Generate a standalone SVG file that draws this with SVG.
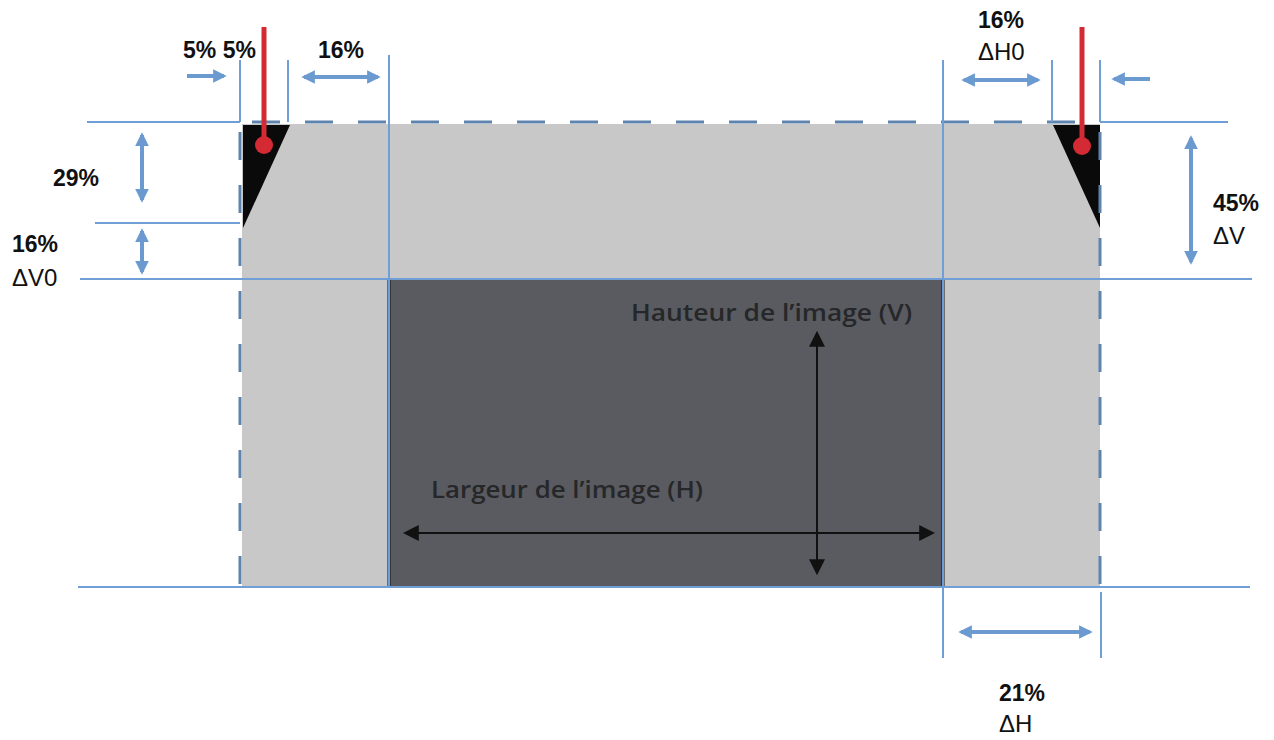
<svg xmlns="http://www.w3.org/2000/svg" width="1274" height="740" viewBox="0 0 1274 740">
<defs>
<style>
.ln{stroke:#6f9fd6;stroke-width:2;fill:none}
.dash{stroke:#5e84ad;stroke-width:3;fill:none;stroke-dasharray:28 25}
.arr{stroke:#6a9ad0;stroke-width:4;fill:none}
.red{stroke:#d42a33;stroke-width:5;fill:none}
.pct{font-family:"Liberation Sans",Arial,sans-serif;font-weight:bold;font-size:23px;fill:#111}
.dl{font-family:"Liberation Sans",Arial,sans-serif;font-size:24px;fill:#111}
.img{font-family:"Open Sans","Liberation Sans",sans-serif;font-weight:600;font-size:24px;fill:#262729}
.blk{stroke:#111;stroke-width:2;fill:none}
</style>
<marker id="ba" viewBox="0 0 10 10" refX="8" refY="5" markerWidth="3.4" markerHeight="3.4" orient="auto-start-reverse" markerUnits="strokeWidth">
<path d="M0,0 L10,5 L0,10 Z" fill="#6a9ad0"/>
</marker>
<marker id="ka" viewBox="0 0 10 10" refX="8" refY="5" markerWidth="8" markerHeight="8" orient="auto-start-reverse" markerUnits="strokeWidth">
<path d="M0,0 L10,5 L0,10 Z" fill="#111"/>
</marker>
</defs>
<rect width="1274" height="740" fill="#fff"/>
<g id="screen">
<rect x="242" y="124" width="858" height="463" fill="#c8c8c8"/>
<polygon points="243,125 290,125 243,228" fill="#0a0a0a"/>
<polygon points="1053,125 1100,125 1100,228" fill="#0a0a0a"/>
</g>
<g id="image">
<rect x="389" y="280" width="554" height="307" fill="#595b60"/>
<line x1="389" y1="280" x2="389" y2="587" stroke="#111" stroke-width="3"/>
<line x1="943" y1="280" x2="943" y2="587" stroke="#111" stroke-width="3"/>
<text class="img" x="631" y="321" textLength="281" lengthAdjust="spacingAndGlyphs">Hauteur de l’image (V)</text>
<text class="img" x="431" y="498" textLength="272" lengthAdjust="spacingAndGlyphs">Largeur de l’image (H)</text>
</g>
<g id="connectors">
<line class="ln" x1="87" y1="122" x2="240" y2="122"/>
<line class="dash" x1="250" y1="122" x2="1100" y2="122" stroke-dashoffset="-2"/>
<line class="ln" x1="1100" y1="122" x2="1228" y2="122"/>
<line class="ln" x1="95" y1="223" x2="240" y2="223"/>
<line class="ln" x1="80" y1="279" x2="1252" y2="279"/>
<line class="ln" x1="78" y1="587" x2="1250" y2="587"/>
<line class="ln" x1="240" y1="60" x2="240" y2="122"/>
<line class="dash" x1="240" y1="122" x2="240" y2="587" stroke-dashoffset="-10"/>
<line class="ln" x1="288" y1="60" x2="288" y2="122"/>
<line class="ln" x1="389" y1="55" x2="389" y2="587"/>
<line class="ln" x1="943" y1="60" x2="943" y2="658"/>
<line class="ln" x1="1052" y1="60" x2="1052" y2="122"/>
<line class="ln" x1="1100" y1="60" x2="1100" y2="122"/>
<line class="dash" x1="1100" y1="122" x2="1100" y2="587" stroke-dashoffset="-10"/>
<line class="ln" x1="1101" y1="592" x2="1101" y2="658"/>
<line class="arr" x1="187" y1="76" x2="224" y2="76" marker-end="url(#ba)"/>
<line class="arr" x1="304" y1="77" x2="378" y2="77" marker-start="url(#ba)" marker-end="url(#ba)"/>
<line class="arr" x1="142" y1="135" x2="142" y2="200" marker-start="url(#ba)" marker-end="url(#ba)"/>
<line class="arr" x1="142" y1="231" x2="142" y2="272" marker-start="url(#ba)" marker-end="url(#ba)"/>
<line class="arr" x1="964" y1="80" x2="1038" y2="80" marker-start="url(#ba)" marker-end="url(#ba)"/>
<line class="arr" x1="1150" y1="79" x2="1114" y2="79" marker-end="url(#ba)"/>
<line class="arr" x1="1191" y1="138" x2="1191" y2="262" marker-start="url(#ba)" marker-end="url(#ba)"/>
<line class="arr" x1="961" y1="632" x2="1090" y2="632" marker-start="url(#ba)" marker-end="url(#ba)"/>
<line class="blk" x1="817" y1="334" x2="817" y2="572" marker-start="url(#ka)" marker-end="url(#ka)"/>
<line class="blk" x1="406" y1="533" x2="932" y2="533" marker-start="url(#ka)" marker-end="url(#ka)"/>
</g>
<g id="probes">
<line class="red" x1="264" y1="27" x2="264" y2="145"/>
<circle cx="264" cy="145" r="9" fill="#d42a33"/>
<line class="red" x1="1082" y1="27" x2="1082" y2="145"/>
<circle cx="1082" cy="146" r="9" fill="#d42a33"/>
</g>
<g id="labels">
<text class="pct" x="183" y="58">5% 5%</text>
<text class="pct" x="318" y="58">16%</text>
<text class="pct" x="53" y="186">29%</text>
<text class="pct" x="12" y="252">16%</text>
<text class="dl" x="12" y="286">ΔV0</text>
<text class="pct" x="978" y="28">16%</text>
<text class="dl" x="978" y="60">ΔH0</text>
<text class="pct" x="1213" y="211">45%</text>
<text class="dl" x="1213" y="244">ΔV</text>
<text class="pct" x="999" y="701">21%</text>
<text class="dl" x="999" y="732">ΔH</text>
</g>
</svg>
